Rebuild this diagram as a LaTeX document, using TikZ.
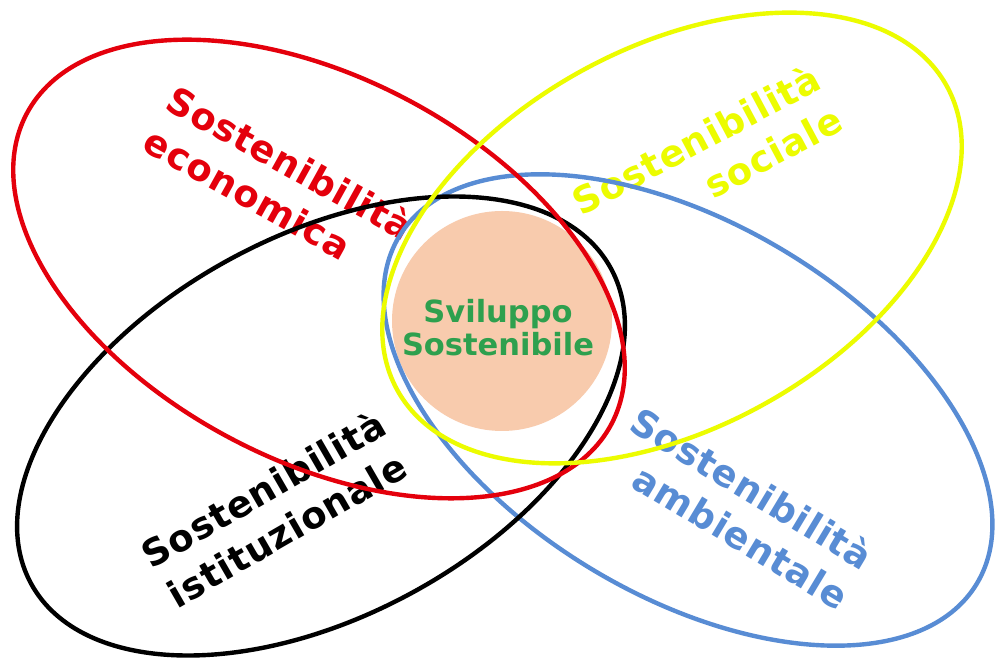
\documentclass[tikz,border=0pt]{standalone}
\usepackage{fontspec}
\setmainfont{DejaVu Sans}
\newfontfamily\labfont[LetterSpace=2.5]{DejaVu Sans}
\definecolor{cred}{RGB}{228,0,12}
\definecolor{cyel}{RGB}{236,252,0}
\definecolor{cblu}{RGB}{88,140,212}
\definecolor{cgrn}{RGB}{46,160,78}
\definecolor{cpea}{RGB}{248,203,173}
\begin{document}
\begin{tikzpicture}[x=1pt,y=1pt,
  ring/.style={line width=4.4pt},
  lab/.style={inner sep=0pt,font=\labfont\bfseries\fontsize{37}{47}\selectfont},
  mid/.style={inner sep=0pt,align=center,text=cgrn,font=\bfseries\fontsize{30.5}{33}\selectfont}]
\useasboundingbox (0,0) rectangle (996,660);
\fill[white] (0,0) rectangle (996,660);
% central circle
\node[circle,fill=cpea,minimum size=220pt,inner sep=0pt] (core) at (502,339) {};
\node[mid] (coretxt) at (498,332) {Sviluppo\\Sostenibile};
% labels
\node[lab,rotate=-29,align=left,text=cred] (leco) at (279,477) {Sostenibilità\\economica};
\node[lab,rotate=28,align=right,text=cyel] (lsoc) at (707,500) {Sostenibilità\\sociale};
\node[lab,rotate=30,align=center,text=black] (list) at (275,151) {Sostenibilità\\istituzionale};
\node[lab,rotate=-31,align=right,text=cblu] (lamb) at (740,152) {Sostenibilità\\ambientale};
% ellipses
\coordinate (cr) at (319,391);
\coordinate (cy) at (672,422);
\coordinate (ck) at (321,234);
\coordinate (cb) at (688,250);
\draw[ring,cblu,rotate around={-31:(cb)}] (cb) ellipse [x radius=337pt,y radius=186pt];
\draw[ring,black,rotate around={28.5:(ck)}] (ck) ellipse [x radius=330pt,y radius=190pt];
\draw[ring,cred,rotate around={-28:(cr)}] (cr) ellipse [x radius=331pt,y radius=191pt];
\draw[ring,cyel,rotate around={29:(cy)}] (cy) ellipse [x radius=314pt,y radius=190pt];
\end{tikzpicture}
\end{document}
